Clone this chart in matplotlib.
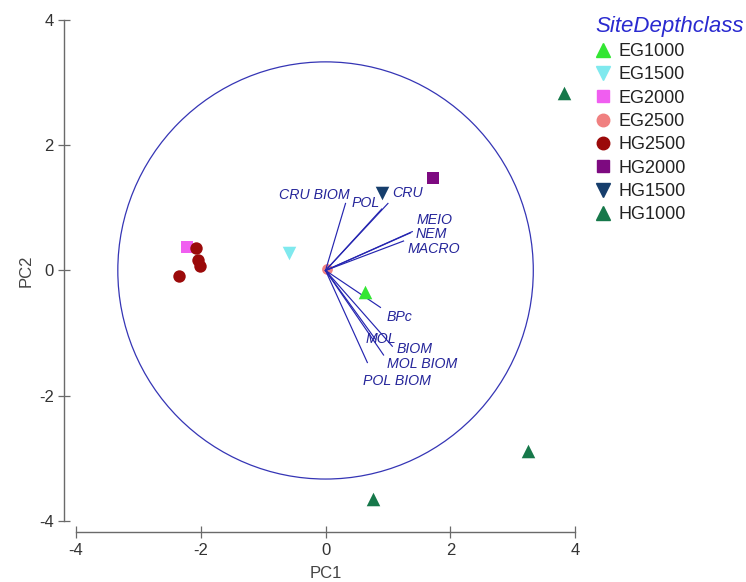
import numpy as np
import matplotlib.pyplot as plt
from matplotlib.lines import Line2D
from matplotlib.patches import Circle

plt.rcParams['font.family'] = ['Liberation Sans', 'DejaVu Sans']
plt.rcParams['axes.unicode_minus'] = False

# sample scores (PC1, PC2) per group
groups = ['EG1000', 'EG1500', 'EG2000', 'EG2500', 'HG2500', 'HG2000', 'HG1500', 'HG1000']
markers = ['^', 'v', 's', 'o', 'o', 's', 'v', '^']
colors = ['#33e633', '#7fe9ee', '#f05ef0', '#f08080', '#9b0a0a', '#7d0a80', '#163e6c', '#16784a']
pc1 = {
    'EG1000': [0.64],
    'EG1500': [-0.59],
    'EG2000': [-2.22],
    'EG2500': [0.02],
    'HG2500': [-2.08, -2.04, -2.01, -2.35],
    'HG2000': [1.73],
    'HG1500': [0.91],
    'HG1000': [3.82, 3.25, 0.76],
}
pc2 = {
    'EG1000': [-0.34],
    'EG1500': [0.28],
    'EG2000': [0.37],
    'EG2500': [0.03],
    'HG2500': [0.36, 0.16, 0.07, -0.09],
    'HG2000': [1.47],
    'HG1500': [1.23],
    'HG1000': [2.83, -2.88, -3.65],
}

# variable vectors
var_names = ['CRU BIOM', 'POL', 'CRU', 'MEIO', 'NEM', 'MACRO', 'BPc', 'MOL', 'BIOM', 'MOL BIOM', 'POL BIOM']
vec_x = [0.32, 0.90, 1.00, 1.39, 1.36, 1.25, 0.88, 0.80, 1.07, 0.93, 0.67]
vec_y = [1.07, 0.98, 1.07, 0.62, 0.60, 0.47, -0.59, -1.10, -1.21, -1.35, -1.47]
lab_x = [-0.18, 0.65, 1.32, 1.74, 1.69, 1.73, 1.18, 0.88, 1.42, 1.54, 1.15]
lab_y = [1.20, 1.07, 1.23, 0.80, 0.585, 0.35, -0.75, -1.09, -1.25, -1.50, -1.76]
circle_r = 3.33

fig = plt.figure(figsize=(7.46, 5.82), dpi=100)
ax = fig.add_axes([0.1019, 0.1048, 0.669, 0.861])
ax.set_xlim(-4, 4)
ax.set_ylim(-4, 4)

ax.add_patch(Circle((0, 0), circle_r, fill=False, edgecolor='#3535b5', linewidth=0.9))

# EG2500 sits under the vectors
ax.scatter(pc1['EG2500'], pc2['EG2500'], marker='o', s=60, color=colors[3], zorder=2, linewidths=0)

for x, y in zip(vec_x, vec_y):
    ax.plot([0, x], [0, y], color='#2525b0', linewidth=0.85, zorder=3)
for name, x, y in zip(var_names, lab_x, lab_y):
    ax.text(x, y, name, ha='center', va='center', fontsize=10.2, style='italic',
            color='#25259a', zorder=4)

for g, m, c in zip(groups, markers, colors):
    if g == 'EG2500':
        continue
    sz = 95 if m in '^v' else (80 if m == 'o' else 70)
    ax.scatter(pc1[g], pc2[g], marker=m, s=sz, color=c, linewidths=0, zorder=5)

# axes styling
for side in ['top', 'right']:
    ax.spines[side].set_visible(False)
ax.spines['left'].set_position(('outward', 8.6))
ax.spines['bottom'].set_position(('outward', 8))
for side in ['left', 'bottom']:
    ax.spines[side].set_color('#6a6a6a')
    ax.spines[side].set_linewidth(1.0)
ax.spines['left'].set_bounds(-4, 4)
ax.spines['bottom'].set_bounds(-4, 4)
ax.set_xticks([-4, -2, 0, 2, 4])
ax.set_yticks([-4, -2, 0, 2, 4])
ax.tick_params(direction='inout', length=9, width=0.9, color='#6a6a6a',
               labelsize=12, labelcolor='#333333', pad=3)
ax.set_xlabel('PC1', fontsize=12, color='#444444', labelpad=6)
ax.set_ylabel('PC2', fontsize=12, color='#444444', labelpad=4)

# legend
handles = [Line2D([], [], linestyle='none', marker=m, color=c, markersize=9.5 if m in '^v' else 9)
           for m, c in zip(markers, colors)]
leg = fig.legend(handles, groups, loc='upper left', bbox_to_anchor=(0.7976, 0.973),
                 frameon=False, fontsize=13, handlelength=0.9, handletextpad=0.4,
                 labelspacing=0.35, borderaxespad=0, borderpad=0, title='SiteDepthclass',
                 title_fontproperties={'size': 16, 'style': 'italic'})
leg.get_title().set_color('#2a2ad0')
leg._legend_box.align = 'left'
for t in leg.get_texts():
    t.set_color('#222222')

fig.savefig('out.png', dpi=100)
